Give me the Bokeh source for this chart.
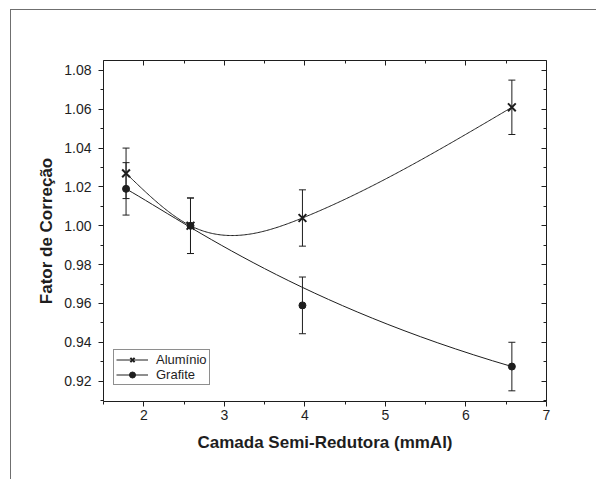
import numpy as np
from bokeh.plotting import figure
from bokeh.models import (Range1d, LinearAxis, FixedTicker, Whisker, TeeHead, ColumnDataSource,
                          Legend, LegendItem)
from bokeh.embed import file_html
from bokeh.resources import INLINE

# ---- data ----
hvl = [1.78, 2.58, 3.97, 6.57]            # Camada Semi-Redutora (mmAl)
al_y = [1.027, 1.000, 1.004, 1.061]        # Alumínio
al_err = [0.013, 0.0143, 0.0145, 0.014]
gr_y = [1.019, 1.000, 0.959, 0.9275]       # Grafite
gr_err = [0.0135, 0.0143, 0.0146, 0.0125]

x_ticks = [2, 3, 4, 5, 6, 7]
x_minor = [1.5, 2.5, 3.5, 4.5, 5.5, 6.5]
y_ticks = [0.92, 0.94, 0.96, 0.98, 1.00, 1.02, 1.04, 1.06, 1.08]
y_tick_labels = ["0.92", "0.94", "0.96", "0.98", "1.00", "1.02", "1.04", "1.06", "1.08"]
y_minor = [0.91, 0.93, 0.95, 0.97, 0.99, 1.01, 1.03, 1.05, 1.07]

x_title = "Camada Semi-Redutora (mmAl)"
y_title = "Fator de Correção"
labels = ["Alumínio", "Grafite"]

FONT = "Liberation Sans"
INK = "#1e1e1e"


def natural_spline(xs, ys, n=300):
    xs = np.asarray(xs, float)
    ys = np.asarray(ys, float)
    k = len(xs)
    h = np.diff(xs)
    d = np.diff(ys) / h
    A = np.zeros((k, k))
    r = np.zeros(k)
    A[0, 0] = A[-1, -1] = 1
    for i in range(1, k - 1):
        A[i, i - 1] = h[i - 1]
        A[i, i] = 2 * (h[i - 1] + h[i])
        A[i, i + 1] = h[i]
        r[i] = 6 * (d[i] - d[i - 1])
    M = np.linalg.solve(A, r)
    xx = np.linspace(xs[0], xs[-1], n)
    idx = np.clip(np.searchsorted(xs, xx) - 1, 0, k - 2)
    x0 = xs[idx]
    x1 = xs[idx + 1]
    hh = x1 - x0
    yy = (M[idx] * (x1 - xx) ** 3 / (6 * hh) + M[idx + 1] * (xx - x0) ** 3 / (6 * hh)
          + (ys[idx] / hh - M[idx] * hh / 6) * (x1 - xx)
          + (ys[idx + 1] / hh - M[idx + 1] * hh / 6) * (xx - x0))
    return xx, yy


p = figure(width=586, height=470, output_backend="svg", toolbar_location=None,
           x_range=Range1d(1.5, 7.0), y_range=Range1d(0.9095, 1.0851),
           min_border_left=92, min_border_right=51, min_border_top=50, min_border_bottom=79)
p.grid.visible = False
p.outline_line_color = None
p.background_fill_color = "white"
p.border_fill_color = "white"
# outer page frame (gray lines on top and left)
p.styles = {"margin-left": "10px", "margin-top": "9px",
            "border-left": "1.5px solid #6f6f6f", "border-top": "1.5px solid #6f6f6f"}

# axes
xa = p.xaxis[0]
xa.ticker = FixedTicker(ticks=x_ticks, minor_ticks=x_minor)
ya = p.yaxis[0]
ya.ticker = FixedTicker(ticks=y_ticks, minor_ticks=y_minor)
ya.major_label_overrides = {t: l for t, l in zip(y_ticks, y_tick_labels)}
xa.axis_label = x_title
ya.axis_label = y_title
for ax in (xa, ya):
    ax.axis_line_color = INK
    ax.major_tick_line_color = INK
    ax.minor_tick_line_color = INK
    ax.major_tick_out = 5
    ax.major_tick_in = 0
    ax.minor_tick_out = 3
    ax.minor_tick_in = 0
    ax.major_label_text_font = FONT
    ax.major_label_text_font_size = "14px"
    ax.major_label_text_color = INK
    ax.axis_label_text_font = FONT
    ax.axis_label_text_font_size = "17px"
    ax.axis_label_text_font_style = "bold"
    ax.axis_label_text_color = INK
xa.major_label_standoff = 3
xa.axis_label_standoff = 10
ya.major_label_standoff = 7
ya.axis_label_standoff = 5

top_ax = LinearAxis(ticker=FixedTicker(ticks=x_ticks, minor_ticks=x_minor))
right_ax = LinearAxis(ticker=FixedTicker(ticks=y_ticks, minor_ticks=y_minor))
for ax in (top_ax, right_ax):
    ax.axis_line_color = INK
    ax.major_tick_line_color = INK
    ax.minor_tick_line_color = INK
    ax.major_tick_in = 5
    ax.major_tick_out = 0
    ax.minor_tick_in = 3
    ax.minor_tick_out = 0
    ax.major_label_text_font_size = "0px"
    ax.major_label_text_alpha = 0
p.add_layout(top_ax, "above")
p.add_layout(right_ax, "right")

# error bars
al_src = ColumnDataSource(dict(x=hvl, y=al_y,
                               upper=[v + e for v, e in zip(al_y, al_err)],
                               lower=[v - e for v, e in zip(al_y, al_err)]))
gr_src = ColumnDataSource(dict(x=hvl, y=gr_y,
                               upper=[v + e for v, e in zip(gr_y, gr_err)],
                               lower=[v - e for v, e in zip(gr_y, gr_err)]))
for src in (al_src, gr_src):
    w = Whisker(source=src, base="x", upper="upper", lower="lower", dimension="height",
                line_color=INK, line_width=1,
                upper_head=TeeHead(size=7, line_color=INK, line_width=1),
                lower_head=TeeHead(size=7, line_color=INK, line_width=1))
    p.add_layout(w)

# curves
sx, sy = natural_spline(hvl, al_y)
p.line(sx, sy, line_color=INK, line_width=1)
p.bezier(x0=[hvl[0]], y0=[gr_y[0]], x1=[hvl[3]], y1=[gr_y[3]],
         cx0=[hvl[1]], cy0=[gr_y[1]], cx1=[hvl[2]], cy1=[gr_y[2]],
         line_color=INK, line_width=1)

# markers
p.scatter("x", "y", source=al_src, marker="x", size=11, line_color=INK, line_width=2)
p.scatter("x", "y", source=gr_src, marker="circle", size=7, fill_color=INK, line_color=INK)

# legend proxies (a single NaN point each, so nothing shows in the plot)
nan = float("nan")
l1 = p.line(x=[nan], y=[nan], line_color=INK, line_width=1)
m1 = p.scatter(x=[nan], y=[nan], marker="x", size=11, line_color=INK, line_width=2)
l2 = p.line(x=[nan], y=[nan], line_color=INK, line_width=1)
m2 = p.scatter(x=[nan], y=[nan], marker="circle", size=7, fill_color=INK, line_color=INK)
legend = Legend(items=[LegendItem(label=labels[0], renderers=[l1, m1]),
                       LegendItem(label=labels[1], renderers=[l2, m2])],
                location=(10, 16), padding=2, spacing=0, margin=0,
                glyph_width=32, glyph_height=15, label_height=15, label_standoff=8,
                label_text_font=FONT, label_text_font_size="13px", label_text_color=INK,
                border_line_color=INK, border_line_width=1, background_fill_color="white",
                background_fill_alpha=1)
p.add_layout(legend)

open("out.html", "w").write(file_html(p, INLINE))
